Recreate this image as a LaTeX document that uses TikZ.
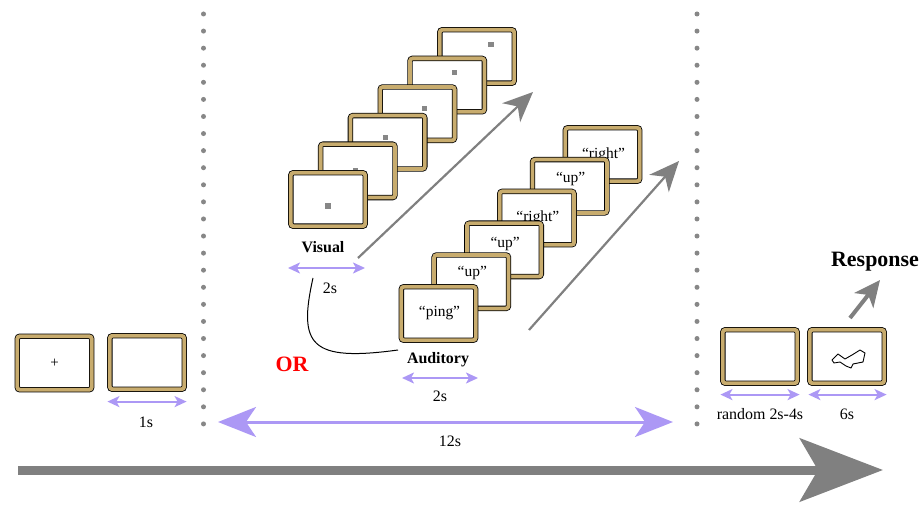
\documentclass[tikz,border=0pt]{standalone}
\usepackage{fontspec}
\setmainfont{Liberation Serif}
\usetikzlibrary{arrows.meta,calc,positioning}

\definecolor{framegold}{RGB}{200,172,110}
\definecolor{spanlilac}{RGB}{172,152,245}
\definecolor{arrowgray}{RGB}{128,128,128}
\definecolor{dotgray}{RGB}{135,135,135}

\tikzset{
  screen/.style={draw=black, line width=0.8bp, double=framegold, double distance=3.8bp,
    fill=white, rounded corners=2.5bp, minimum width=74.4bp, minimum height=53.4bp, inner sep=0pt},
  word/.style={font=\fontsize{15.5}{17}\selectfont},
  dur/.style={font=\fontsize{16}{18}\selectfont},
  tag/.style={font=\bfseries\fontsize{16}{18}\selectfont},
  durarrow/.style={spanlilac, line width=2bp,
    {Stealth[length=12bp,width=11bp,inset=3bp]}-{Stealth[length=12bp,width=11bp,inset=3bp]}},
  bigspan/.style={spanlilac, line width=3bp,
    {Stealth[length=38bp,width=30bp,inset=10bp]}-{Stealth[length=38bp,width=30bp,inset=10bp]}},
  trendarrow/.style={draw=arrowgray, line width=2.2bp, -{Stealth[length=30bp,width=26bp,inset=9bp]}},
  sepdots/.style={dotgray, line width=5bp, line cap=round, dash pattern=on 0bp off 17.08bp},
}

\begin{document}
\begin{tikzpicture}[x=1bp,y=-1bp]
\useasboundingbox (0,0) rectangle (923,505);

% trial separators
\draw[sepdots] (203.5,14) -- (203.5,426);
\draw[sepdots] (697,14) -- (697,426);

% fixation and blank
\node[screen] (fixation) at (54.5,363) {\fontsize{15}{15}\selectfont +};
\node[screen] (blank) at (147,362.5) {};
\draw[durarrow] ($(blank.south west)+(-2,12)$) -- ($(blank.south east)+(2,12)$);
\node[dur] (blanktime) at (146,422) {1s};

% visual stream, drawn back to front
\foreach \i/\dx/\dy in {6/14/-12, 5/7.5/-12.5, 4/7/-5.5, 3/-2.5/-4.5, 2/-2/0, 1/0/6.5} {
  \node[screen] (vis\i) at ({328+(\i-1)*29.8},{199.5-(\i-1)*28.6}) {};
  \fill[dotgray] ($(vis\i.center)+(\dx,\dy)$) +(-2.6,-2.6) rectangle +(2.6,2.6);
}
\coordinate (vistail) at (358,258);
\coordinate (vishead) at (533,92);
\draw[trendarrow] (vistail) -- (vishead);
\node[tag] (vislabel) at (323,247) {Visual};
\draw[durarrow] (288,268) -- (365,268);
\node[dur] (vistime) at (330,288) {2s};

% auditory stream
\foreach \i/\txt/\dy in {6/right/0, 5/up/-7, 4/right/0, 3/up/-6, 2/up/-9, 1/ping/0} {
  \node[screen] (aud\i) at ({438.5+(\i-1)*32.8},{313.5-(\i-1)*31.8}) {};
  \node[word] (audword\i) at ($(aud\i.center)+(1,\dy)$) {“\txt”};
}
\coordinate (audtail) at (529,330);
\coordinate (audhead) at (679,161);
\draw[trendarrow] (audtail) -- (audhead);
\node[tag] (audlabel) at (438,360) {Auditory};
\draw[durarrow] (402,378) -- (478,378);
\node[dur] (audtime) at (440,396) {2s};

% either stream
\coordinate (orstart) at (313,278);
\coordinate (orend) at (398,350);
\draw[line width=1bp] (orstart) .. controls (298,345) and (310,362) .. (orend);
\node[font=\bfseries\fontsize{22}{24}\selectfont, text=red] (orlabel) at (292,364) {OR};

% whole stimulus period
\draw[bigspan] (218,422) -- (673,422);
\node[dur] (streamtime) at (450,441) {12s};

% delay and response
\node[screen] (delay) at (760,356.5) {};
\node[screen] (probe) at (847,356.5) {};
\draw[line width=0.9bp, fill=white, line join=round]
  (832,360) -- (838,354) -- (845,359) -- (852,355) -- (860,350) -- (865,353) -- (863,362)
  -- (853,364) -- (851,368) -- (846,366) -- (840,362) -- (834,363) -- cycle;
\draw[durarrow] ($(delay.south west)+(-2,11)$) -- ($(delay.south east)+(2,11)$);
\draw[durarrow] ($(probe.south west)+(-1,11)$) -- ($(probe.south east)+(2,11)$);
\node[dur] (delaytime) at (760,414) {random 2s-4s};
\node[dur] (probetime) at (847,414) {6s};
\coordinate (resptail) at (850,318);
\coordinate (resphead) at (880,280);
\draw[draw=arrowgray, line width=4bp, -{Stealth[length=26bp,width=24bp,inset=7bp]}] (resptail) -- (resphead);
\node[font=\bfseries\fontsize{22}{24}\selectfont] (resplabel) at (875,262) {Response};

% time axis
\coordinate (timestart) at (18,470);
\coordinate (timeend) at (883,470);
\draw[draw=arrowgray, line width=9bp, -{Stealth[length=83bp,width=63bp,inset=18bp]}] (timestart) -- (timeend);
\end{tikzpicture}
\end{document}
